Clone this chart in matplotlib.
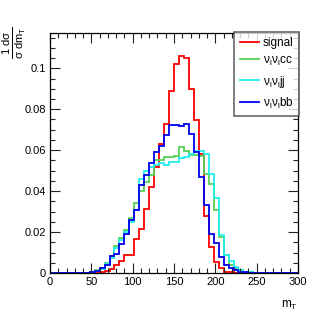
import numpy as np
import matplotlib
matplotlib.use("Agg")
import matplotlib.pyplot as plt
from matplotlib.ticker import MultipleLocator, FuncFormatter
from matplotlib.lines import Line2D

plt.rcParams['font.family'] = ['Liberation Sans', 'DejaVu Sans']
plt.rcParams['mathtext.fontset'] = 'custom'
plt.rcParams['mathtext.rm'] = 'Liberation Sans'
plt.rcParams['mathtext.it'] = 'Liberation Sans:italic'
plt.rcParams['mathtext.bf'] = 'Liberation Sans:bold'

# 50 bins of 6 GeV from 0 to 300
bin_edges = np.linspace(0, 300, 51)

signal = [0, 0, 0, 0, 0, 0, 0, 0, 0, 0.0003,
          0.0005, 0.001, 0.002, 0.004, 0.006, 0.009, 0.009, 0.0166, 0.0213, 0.0315,
          0.042, 0.052, 0.063, 0.073, 0.089, 0.102, 0.106, 0.105, 0.090, 0.0746,
          0.058, 0.028, 0.0128, 0.0055, 0.0023, 0.0007, 0.0003, 0, 0, 0,
          0, 0, 0, 0, 0, 0, 0, 0, 0, 0]

nunucc = [0, 0, 0, 0, 0, 0, 0, 0, 0.0005, 0.0015,
          0.0023, 0.005, 0.0085, 0.013, 0.017, 0.021, 0.027, 0.034, 0.040, 0.0445,
          0.048, 0.055, 0.055, 0.0567, 0.0567, 0.057, 0.0618, 0.0597, 0.0576, 0.0576,
          0.057, 0.0486, 0.0437, 0.0307, 0.0177, 0.0088, 0.0039, 0.0023, 0.0015, 0.0007,
          0.0003, 0, 0, 0, 0, 0, 0, 0, 0, 0]

nunujj = [0, 0, 0, 0, 0, 0, 0, 0, 0.0004, 0.001,
          0.002, 0.0045, 0.0075, 0.012, 0.016, 0.020, 0.025, 0.031, 0.046, 0.050,
          0.052, 0.053, 0.0535, 0.053, 0.0543, 0.0543, 0.056, 0.0567, 0.058, 0.0595,
          0.0595, 0.058, 0.0486, 0.0364, 0.0185, 0.009, 0.006, 0.003, 0.0015, 0.0007,
          0.0003, 0, 0, 0, 0, 0, 0, 0, 0, 0]

nunubb = [0, 0, 0, 0, 0, 0, 0, 0, 0.0003, 0.001,
          0.0024, 0.004, 0.0085, 0.0095, 0.014, 0.019, 0.026, 0.031, 0.043, 0.048,
          0.0535, 0.0589, 0.062, 0.0673, 0.0722, 0.0722, 0.072, 0.073, 0.068, 0.059,
          0.047, 0.033, 0.019, 0.0145, 0.008, 0.004, 0.0023, 0.0015, 0.0007, 0.0003,
          0, 0, 0, 0, 0, 0, 0, 0, 0, 0]

series = [
    (signal, '#ff0000', 'signal'),
    (nunucc, '#55d055', r'$\mathregular{\nu_{l}\nu_{l}cc}$'),
    (nunujj, '#22eeee', r'$\mathregular{\nu_{l}\nu_{l}jj}$'),
    (nunubb, '#0000ee', r'$\mathregular{\nu_{l}\nu_{l}bb}$'),
]

W, H = 332, 322
fig = plt.figure(figsize=(W / 100, H / 100), dpi=100)
ax = fig.add_axes([50 / W, 1 - 273 / H, 248 / W, 240.5 / H])

for vals, col, lab in series:
    ax.stairs(vals, bin_edges, color=col, linewidth=1.3, baseline=0)

ax.set_xlim(0, 300)
ax.set_ylim(0, 0.1175)

ax.xaxis.set_major_locator(MultipleLocator(50))
ax.xaxis.set_minor_locator(MultipleLocator(10))
ax.yaxis.set_major_locator(MultipleLocator(0.02))
ax.yaxis.set_minor_locator(MultipleLocator(0.005))
ax.yaxis.set_major_formatter(FuncFormatter(lambda v, p: ('%g' % round(v, 4))))

ax.tick_params(which='both', direction='in', top=True, right=True,
               labelsize=8, width=0.8, color='#222222')
ax.tick_params(which='major', length=7, pad=3)
ax.tick_params(which='minor', length=3.5)
for s in ax.spines.values():
    s.set_linewidth(0.9)

fig.text(298 / W, 1 - 305 / H, r'$\mathregular{m_{T}}$', ha='right', va='center', fontsize=8.5)
fig.text(14 / W, 1 - 26 / H, r'$\mathregular{\frac{1\ d\sigma}{\sigma\ dm_{T}}}$',
         ha='center', va='top', rotation=90, fontsize=11.5)

leg_handles = [Line2D([0], [0], color=c, lw=1.3) for _, c, _ in series]
leg = ax.legend(leg_handles, [l for _, _, l in series], loc='upper right',
                bbox_to_anchor=(299 / W, 1 - 31.7 / H), bbox_transform=fig.transFigure,
                fontsize=8.5, frameon=True, fancybox=False, edgecolor='#333333',
                handlelength=1.6, handletextpad=0.35, labelspacing=0.5,
                borderpad=0.45, borderaxespad=0, handleheight=0.9)
leg.get_frame().set_linewidth(1.1)

fig.savefig('out.png', dpi=100)
